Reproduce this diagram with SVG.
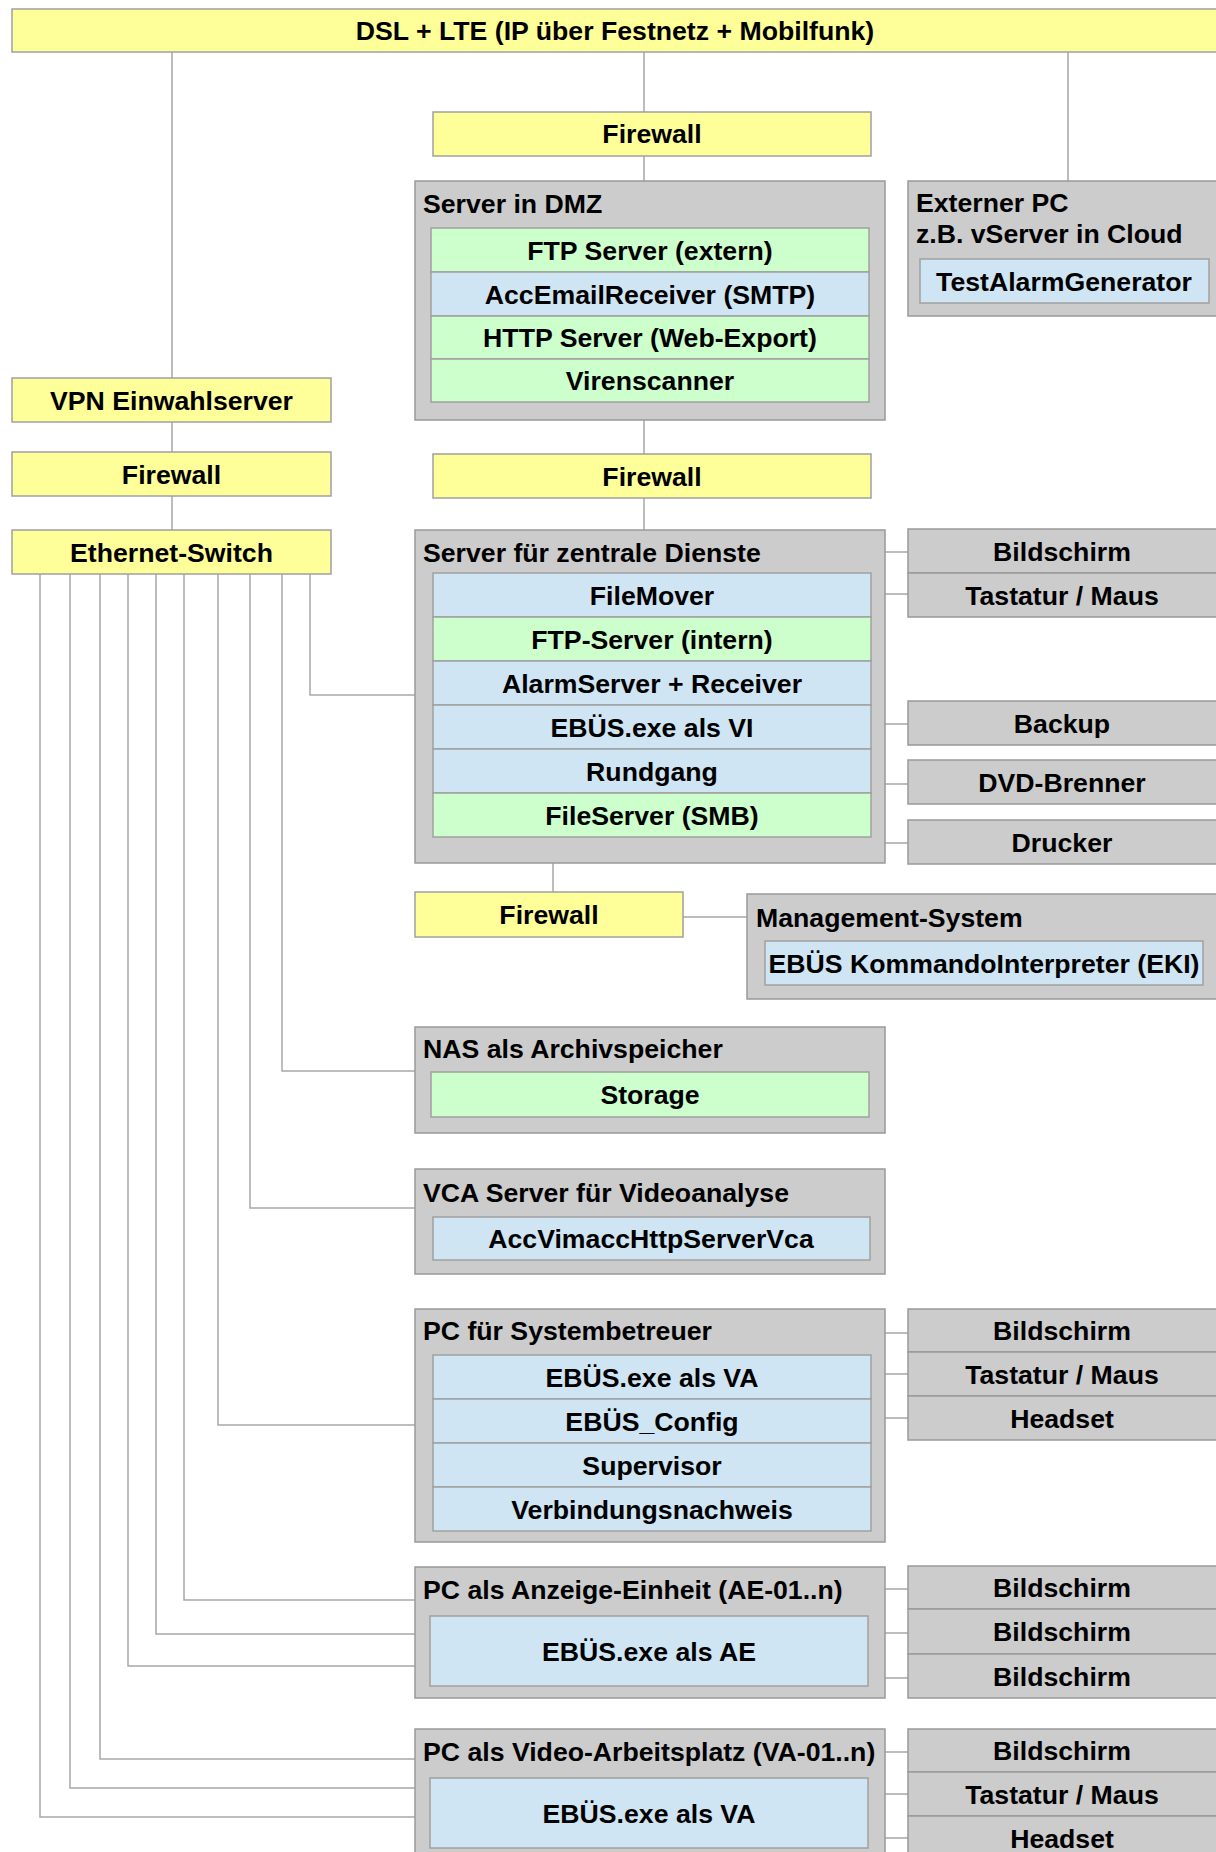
<svg xmlns="http://www.w3.org/2000/svg" width="1216" height="1852" viewBox="0 0 1216 1852">
<style>
text{font-family:"Liberation Sans",Arial,sans-serif;font-weight:bold;font-size:26.67px;fill:#000}
.c{text-anchor:middle}
.y{fill:#ffff99;stroke:#a0a0a0;stroke-width:1.5}
.g{fill:#cccccc;stroke:#999999;stroke-width:1.5}
.gr{fill:#ccffcc;stroke:#a0a0a0;stroke-width:1.5}
.b{fill:#cfe5f3;stroke:#a0a0a0;stroke-width:1.5}
.ln{fill:none;stroke:#a8a8a8;stroke-width:1.5}
</style>
<rect width="1216" height="1852" fill="#ffffff"/>
<g id="connectors" class="ln">
<path d="M172 52V378M644 52V112M1068 52V181M644 156V181M172 422V452M172 496V530M644 420V454M644 498V530M553 863V892M683 917H747"/>
<path d="M310 574V695H415M282 574V1071H415M250 574V1208H415M218 574V1425H415M184 574V1600H415M156 574V1634H415M128 574V1666H415M100 574V1759H415M70 574V1788H415M40 574V1817H415"/>
<path d="M885 552H908M885 594H908M885 724H908M885 784H908M885 843H908M885 1333H908M885 1374H908M885 1418H908M885 1589H908M885 1633H908M885 1678H908M885 1752H908M885 1794H908M885 1838H908"/>
</g>
<g id="dsl"><rect class="y" x="12" y="9" width="1220" height="43"/><text class="c" x="615" y="39.5">DSL + LTE (IP über Festnetz + Mobilfunk)</text></g>
<g id="firewall1"><rect class="y" x="433" y="112" width="438" height="44"/><text class="c" x="652" y="143">Firewall</text></g>
<g id="dmz"><rect class="g" x="415" y="181" width="470" height="239"/><text x="423" y="213">Server in DMZ</text>
<rect class="gr" x="431" y="228" width="438" height="44"/><text class="c" x="650" y="259.5">FTP Server (extern)</text>
<rect class="b" x="431" y="272" width="438" height="44"/><text class="c" x="650" y="303.5">AccEmailReceiver (SMTP)</text>
<rect class="gr" x="431" y="316" width="438" height="43"/><text class="c" x="650" y="347">HTTP Server (Web-Export)</text>
<rect class="gr" x="431" y="359" width="438" height="43"/><text class="c" x="650" y="390">Virenscanner</text></g>
<g id="externerpc"><rect class="g" x="908" y="181" width="320" height="135"/><text x="916" y="212">Externer PC</text><text x="916" y="243">z.B. vServer in Cloud</text>
<rect class="b" x="920" y="259" width="289" height="44"/><text class="c" x="1064" y="290.5">TestAlarmGenerator</text></g>
<g id="vpn"><rect class="y" x="12" y="378" width="319" height="44"/><text class="c" x="171.5" y="409.5">VPN Einwahlserver</text></g>
<g id="firewall-left"><rect class="y" x="12" y="452" width="319" height="44"/><text class="c" x="171.5" y="483.5">Firewall</text></g>
<g id="firewall2"><rect class="y" x="433" y="454" width="438" height="44"/><text class="c" x="652" y="485.5">Firewall</text></g>
<g id="switch"><rect class="y" x="12" y="530" width="319" height="44"/><text class="c" x="171.5" y="561.5">Ethernet-Switch</text></g>
<g id="zentral"><rect class="g" x="415" y="530" width="470" height="333"/><text x="423" y="562">Server für zentrale Dienste</text>
<rect class="b" x="433" y="573" width="438" height="44"/><text class="c" x="652" y="604.5">FileMover</text>
<rect class="gr" x="433" y="617" width="438" height="44"/><text class="c" x="652" y="648.5">FTP-Server (intern)</text>
<rect class="b" x="433" y="661" width="438" height="44"/><text class="c" x="652" y="692.5">AlarmServer + Receiver</text>
<rect class="b" x="433" y="705" width="438" height="44"/><text class="c" x="652" y="736.5">EBÜS.exe als VI</text>
<rect class="b" x="433" y="749" width="438" height="44"/><text class="c" x="652" y="780.5">Rundgang</text>
<rect class="gr" x="433" y="793" width="438" height="44"/><text class="c" x="652" y="824.5">FileServer (SMB)</text></g>
<g id="p-bildschirm1"><rect class="g" x="908" y="529" width="320" height="44"/><text class="c" x="1062" y="560.5">Bildschirm</text></g>
<g id="p-tastatur1"><rect class="g" x="908" y="573" width="320" height="44"/><text class="c" x="1062" y="604.5">Tastatur / Maus</text></g>
<g id="p-backup"><rect class="g" x="908" y="701" width="320" height="44"/><text class="c" x="1062" y="732.5">Backup</text></g>
<g id="p-dvd"><rect class="g" x="908" y="760" width="320" height="44"/><text class="c" x="1062" y="791.5">DVD-Brenner</text></g>
<g id="p-drucker"><rect class="g" x="908" y="820" width="320" height="44"/><text class="c" x="1062" y="851.5">Drucker</text></g>
<g id="firewall3"><rect class="y" x="415" y="892" width="268" height="45"/><text class="c" x="549" y="924">Firewall</text></g>
<g id="management"><rect class="g" x="747" y="894" width="485" height="105"/><text x="756" y="927">Management-System</text>
<rect class="b" x="765" y="941" width="438" height="44"/><text class="c" x="984" y="972.5">EBÜS KommandoInterpreter (EKI)</text></g>
<g id="nas"><rect class="g" x="415" y="1027" width="470" height="106"/><text x="423" y="1058">NAS als Archivspeicher</text>
<rect class="gr" x="431" y="1072" width="438" height="45"/><text class="c" x="650" y="1104">Storage</text></g>
<g id="vca"><rect class="g" x="415" y="1169" width="470" height="105"/><text x="423" y="1202">VCA Server für Videoanalyse</text>
<rect class="b" x="433" y="1217" width="437" height="43"/><text class="c" x="651" y="1248">AccVimaccHttpServerVca</text></g>
<g id="pc-sys"><rect class="g" x="415" y="1309" width="470" height="233"/><text x="423" y="1340">PC für Systembetreuer</text>
<rect class="b" x="433" y="1355" width="438" height="44"/><text class="c" x="652" y="1386.5">EBÜS.exe als VA</text>
<rect class="b" x="433" y="1399" width="438" height="44"/><text class="c" x="652" y="1430.5">EBÜS_Config</text>
<rect class="b" x="433" y="1443" width="438" height="44"/><text class="c" x="652" y="1474.5">Supervisor</text>
<rect class="b" x="433" y="1487" width="438" height="44"/><text class="c" x="652" y="1518.5">Verbindungsnachweis</text></g>
<g id="p-bildschirm2"><rect class="g" x="908" y="1309" width="320" height="43"/><text class="c" x="1062" y="1340">Bildschirm</text></g>
<g id="p-tastatur2"><rect class="g" x="908" y="1352" width="320" height="44"/><text class="c" x="1062" y="1383.5">Tastatur / Maus</text></g>
<g id="p-headset2"><rect class="g" x="908" y="1396" width="320" height="44"/><text class="c" x="1062" y="1427.5">Headset</text></g>
<g id="pc-ae"><rect class="g" x="415" y="1567" width="470" height="131"/><text x="423" y="1599">PC als Anzeige-Einheit (AE-01..n)</text>
<rect class="b" x="430" y="1616" width="438" height="70"/><text class="c" x="649" y="1660.5">EBÜS.exe als AE</text></g>
<g id="p-bildschirm3"><rect class="g" x="908" y="1566" width="320" height="43"/><text class="c" x="1062" y="1597">Bildschirm</text></g>
<g id="p-bildschirm4"><rect class="g" x="908" y="1609" width="320" height="45"/><text class="c" x="1062" y="1641">Bildschirm</text></g>
<g id="p-bildschirm5"><rect class="g" x="908" y="1654" width="320" height="44"/><text class="c" x="1062" y="1685.5">Bildschirm</text></g>
<g id="pc-va"><rect class="g" x="415" y="1729" width="470" height="140"/><text x="423" y="1761">PC als Video-Arbeitsplatz (VA-01..n)</text>
<rect class="b" x="430" y="1778" width="438" height="70"/><text class="c" x="649" y="1822.5">EBÜS.exe als VA</text></g>
<g id="p-bildschirm6"><rect class="g" x="908" y="1729" width="320" height="43"/><text class="c" x="1062" y="1760">Bildschirm</text></g>
<g id="p-tastatur3"><rect class="g" x="908" y="1772" width="320" height="44"/><text class="c" x="1062" y="1803.5">Tastatur / Maus</text></g>
<g id="p-headset3"><rect class="g" x="908" y="1816" width="320" height="44"/><text class="c" x="1062" y="1847.5">Headset</text></g>
</svg>
